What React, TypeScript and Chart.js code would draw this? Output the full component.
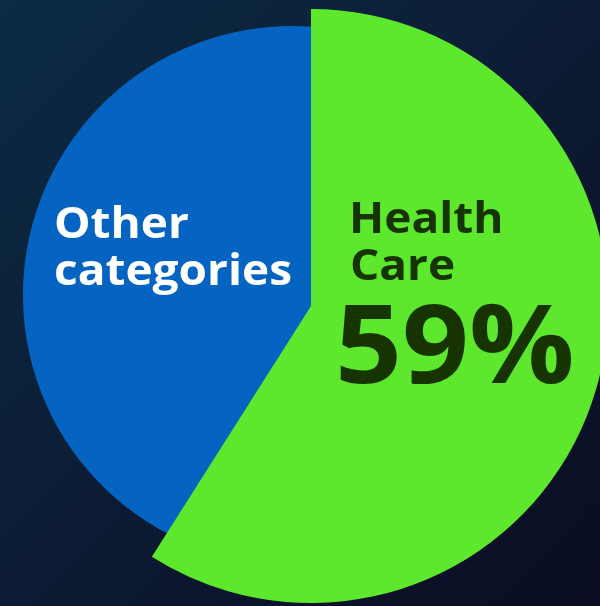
import React, { useEffect, useRef } from "react";
import { Chart, registerables } from "chart.js";

Chart.register(...registerables);

const categories = ["Other categories", "Health Care"];
const shares = [41, 59];
const colors = ["#0563c1", "#5de82e"];
const labelLines = [["Other", "categories"], ["Health", "Care"]];
const bigLabel = "59%";

const FONT = '"Open Sans", "Noto Sans", sans-serif';

// The "Other" slice is drawn as a slightly smaller disc, shifted up-left, sitting behind the Health Care wedge.
const otherShape = {
  id: "otherShape",
  afterDatasetUpdate(chart: any, args: any) {
    const meta = chart.getDatasetMeta(args.index);
    const arc: any = meta.data[0];
    if (!arc) return;
    const R = arc.outerRadius;
    arc.x = arc.x - 0.064 * R;
    arc.y = arc.y - 0.037 * R;
    arc.outerRadius = R * 0.906;
    arc.endAngle = arc.startAngle + Math.PI * 2;
    arc.circumference = Math.PI * 2;
  },
};

function wideText(ctx: any, text: string, x: number, y: number, sx: number) {
  ctx.save();
  ctx.translate(x, y);
  ctx.scale(sx, 1);
  ctx.fillText(text, 0, 0);
  ctx.restore();
}

const labelsPlugin = {
  id: "labelsPlugin",
  afterDraw(chart: any) {
    const ctx = chart.ctx;
    ctx.save();
    ctx.textAlign = "left";
    ctx.textBaseline = "alphabetic";
    ctx.fillStyle = "#ffffff";
    ctx.font = `700 43px ${FONT}`;
    wideText(ctx, labelLines[0][0], 54, 238, 1.07);
    wideText(ctx, labelLines[0][1], 54, 285, 1.07);
    ctx.fillStyle = "#163300";
    wideText(ctx, labelLines[1][0], 349, 233, 1.07);
    wideText(ctx, labelLines[1][1], 350, 280, 1.07);
    ctx.font = `700 110px ${FONT}`;
    wideText(ctx, bigLabel, 335, 383, 1.065);
    ctx.restore();
  },
};

export default function App() {
  const ref = useRef<HTMLCanvasElement | null>(null);
  useEffect(() => {
    if (!ref.current) return;
    const total = shares.reduce((a, b) => a + b, 0);
    const chart = new Chart(ref.current, {
      type: "pie",
      data: {
        labels: categories,
        datasets: [
          {
            data: shares,
            backgroundColor: colors,
            borderWidth: 0,
          },
        ],
      },
      options: {
        animation: false,
        responsive: true,
        maintainAspectRatio: false,
        rotation: (-360 * shares[0]) / total,
        radius: 297,
        layout: { padding: { left: 22, top: 6, right: 0, bottom: 0 } },
        plugins: {
          legend: { display: false },
          tooltip: { enabled: false },
        },
        events: [],
      },
      plugins: [otherShape, labelsPlugin],
    });
    return () => chart.destroy();
  }, []);
  return (
    <div
      style={{
        position: "fixed",
        left: 0,
        top: 0,
        width: 600,
        height: 606,
        background:
          "linear-gradient(135deg, #0a2b43 0%, #0c1e36 45%, #0b1229 75%, #0b0e22 100%)",
      }}
    >
      <canvas ref={ref} />
    </div>
  );
}
